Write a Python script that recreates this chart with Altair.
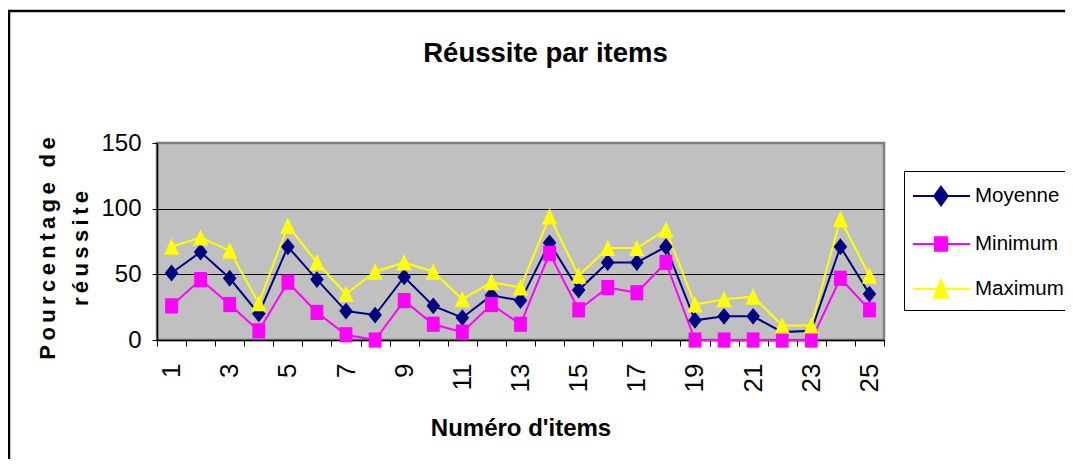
import altair as alt
import pandas as pd

# ---------------- data ----------------
items = list(range(1, 26))
series_names = ["Moyenne", "Minimum", "Maximum"]
moyenne = [51, 67, 47, 20, 71, 46, 22, 19, 48, 26, 17, 34, 30, 74, 38, 59, 59, 71, 15, 18, 18, 6, 7, 71, 35]
minimum = [26, 46, 27, 7, 44, 21, 4, 0, 30, 12, 6, 27, 12, 66, 23, 40, 36, 59, 0, 0, 0, 0, 0, 47, 23]
maximum = [71, 78, 68, 28, 87, 59, 35, 52, 59, 52, 31, 44, 40, 94, 49, 70, 70, 84, 27, 31, 33, 11, 11, 92, 49]
series_colors = ["#000080", "#FF00FF", "#FFFF00"]
x_label_values = [1, 3, 5, 7, 9, 11, 13, 15, 17, 19, 21, 23, 25]
y_tick_values = [0, 50, 100, 150]

title_text = "Réussite par items"
x_title = "Numéro d'items"
y_title_lines = ["Pourcentage de", "réussite"]

# marker shapes (plot) and legend shapes (line + marker)
marker_paths = [
    "M0,-1.05L0.85,0L0,1.05L-0.85,0Z",
    "M-0.8,-0.95L0.8,-0.95L0.8,0.95L-0.8,0.95Z",
    "M0,-1.05L0.95,1L-0.95,1Z",
]
legend_paths = [
    "M-1,0L2.56,0M0.75,-0.58L1.17,0L0.75,0.58L0.33,0Z",
    "M-1,0L2.56,0M0.37,-0.42L1.13,-0.42L1.13,0.42L0.37,0.42Z",
    "M-1,0L2.56,0M0.75,-0.55L1.19,0.55L0.31,0.55Z",
]

rows = []
for name, vals in zip(series_names, [moyenne, minimum, maximum]):
    for it, v in zip(items, vals):
        rows.append({"item": it, "series": name, "value": v})
df = pd.DataFrame(rows)

FONT = "Liberation Sans"
spaced = lambda s: "\u2009".join(list(s))

x_domain = [items[0] - 0.5, items[-1] + 0.5]
tick_values = [i - 0.5 for i in items] + [items[-1] + 0.5]

color_scale = alt.Scale(domain=series_names, range=series_colors)

y_enc = alt.Y(
    "value:Q",
    scale=alt.Scale(domain=[0, 150], nice=False),
    axis=alt.Axis(
        values=y_tick_values,
        grid=True,
        gridColor={"condition": {"test": "datum.value === 150", "value": "#808080"}, "value": "black"},
        gridWidth=1,
        tickSize=5,
        tickColor="black",
        labelFont=FONT,
        labelFontSize=24,
        labelColor="black",
        labelPadding=11,
        domainColor="black",
        domainWidth=1.5,
        title=[spaced(l) for l in y_title_lines],
        titleFont=FONT,
        titleFontSize=22,
        titleFontWeight="bold",
        titleColor="black",
        titleAngle=270,
        titleX=-110,
        titleY=105,
        titleAlign="center",
        titleBaseline="middle",
        titleLineHeight=33,
    ),
)

x_label_enc = alt.X(
    "item:Q",
    scale=alt.Scale(domain=x_domain, nice=False, zero=False),
    axis=alt.Axis(
        orient="bottom",
        values=x_label_values,
        format="d",
        labelAngle=-90,
        labelFont=FONT,
        labelFontSize=26,
        labelColor="black",
        labelPadding=17,
        tickSize=6,
        tickOpacity=0,
        grid=False,
        domainColor="black",
        domainWidth=1.5,
        title=x_title,
        titleFont=FONT,
        titleFontSize=24,
        titleFontWeight="bold",
        titleColor="black",
        titleY=95,
        titleBaseline="alphabetic",
    ),
)

x_tick_enc = alt.X(
    "item:Q",
    scale=alt.Scale(domain=x_domain, nice=False, zero=False),
    axis=alt.Axis(
        orient="bottom",
        values=tick_values,
        labels=False,
        ticks=True,
        tickSize=6,
        tickColor="black",
        domain=False,
        grid=False,
        title=None,
    ),
)

x_plain = alt.X("item:Q", scale=alt.Scale(domain=x_domain, nice=False, zero=False), axis=None)

frame = alt.Chart(pd.DataFrame({"a": [0]})).mark_rect(
    fillOpacity=0, stroke="black", strokeWidth=2.5
).encode(x=alt.value(-148), x2=alt.value(2000), y=alt.value(-132), y2=alt.value(1000))

lines = alt.Chart(df).mark_line(strokeWidth=2).encode(
    x=x_label_enc,
    y=y_enc,
    color=alt.Color("series:N", scale=color_scale, legend=None),
)

points = alt.Chart(df).mark_point(filled=True, size=256, opacity=1, strokeWidth=0).encode(
    x=x_tick_enc,
    y=y_enc,
    color=alt.Color("series:N", scale=color_scale, legend=None),
    shape=alt.Shape("series:N", scale=alt.Scale(domain=series_names, range=marker_paths), legend=None),
)

color_expr = (
    f"datum.value === '{series_names[0]}' ? '{series_colors[0]}' : "
    f"datum.value === '{series_names[1]}' ? '{series_colors[1]}' : '{series_colors[2]}'"
)

legend_layer = alt.Chart(df).transform_filter("false").mark_point(filled=True, strokeWidth=2).encode(
    x=x_plain,
    y=y_enc,
    color=alt.Color("series:N", scale=color_scale, legend=None),
    shape=alt.Shape(
        "series:N",
        scale=alt.Scale(domain=series_names, range=legend_paths),
        legend=alt.Legend(
            title=None,
            orient="none",
            legendX=747,
            legendY=28,
            padding=8,
            strokeColor="black",
            fillColor="white",
            labelFont=FONT,
            labelFontSize=20.5,
            labelColor="black",
            labelOffset=29,
            rowPadding=17,
            symbolSize=1024,
            symbolStrokeWidth=2,
            symbolOpacity=1,
            symbolFillColor=alt.ExprRef(color_expr),
            symbolStrokeColor=alt.ExprRef(color_expr),
        ),
    ),
)

chart = (
    alt.layer(frame, lines, points, legend_layer)
    .resolve_scale(x="independent", shape="independent")
    .resolve_axis(x="independent")
    .properties(
        width=727,
        height=197,
        autosize=alt.AutoSizeParams(type="none"),
        padding={"left": 149, "top": 135, "right": 181, "bottom": 119},
        background="white",
        title=alt.TitleParams(
            text=title_text,
            font=FONT,
            fontSize=27.5,
            fontWeight="bold",
            color="black",
            anchor="middle",
            frame="group",
            dx=25,
            offset=-58,
        ),
    )
    .configure_view(fill="#C0C0C0", stroke="#808080", strokeWidth=2.5)
)

chart.save("out.html", embed_options={"renderer": "svg", "actions": False})
